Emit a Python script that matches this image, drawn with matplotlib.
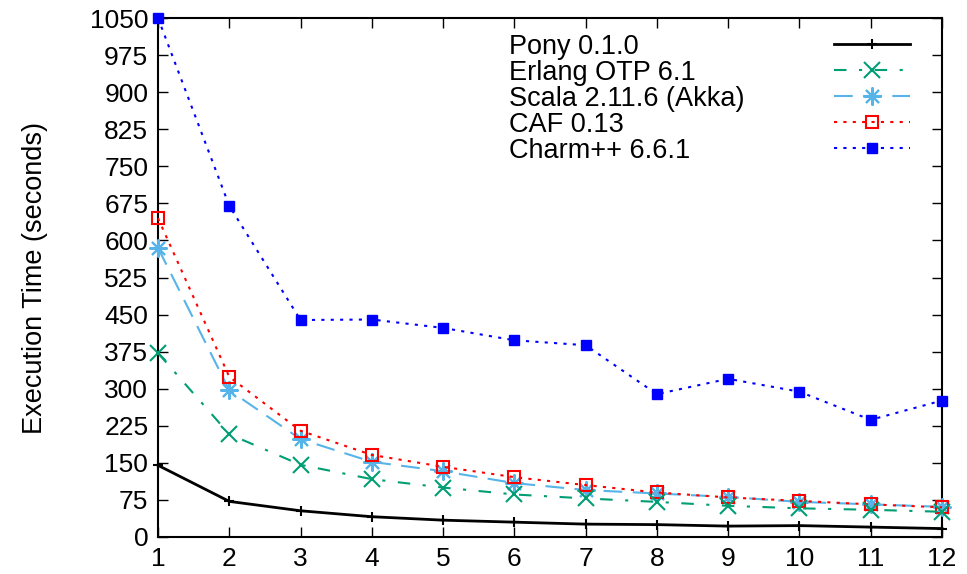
import matplotlib
matplotlib.use('Agg')
import matplotlib.pyplot as plt

plt.rcParams['font.family'] = ['Liberation Sans', 'DejaVu Sans']

cores = [1, 2, 3, 4, 5, 6, 7, 8, 9, 10, 11, 12]
pony = [145, 72, 53, 41, 34, 30, 26, 25, 22, 23, 20, 17]
erlang = [372, 208, 146, 117, 100, 86, 78, 71, 63, 58, 55, 51]
scala = [585, 297, 198, 152, 133, 109, 95, 88, 81, 71, 66, 61]
caf = [645, 324, 215, 166, 142, 121, 105, 90, 80, 73, 66, 60]
charm = [1050, 670, 439, 440, 423, 398, 388, 289, 320, 294, 237, 276]

y_ticks = list(range(0, 1051, 75))

fig = plt.figure(figsize=(9.67, 5.74), dpi=100)
ax = fig.add_axes([0.1634, 0.0645, 0.8107, 0.9041])

ax.plot(cores, pony, color='black', lw=2, marker='+', ms=7, mew=1.5,
        label='Pony 0.1.0', clip_on=False, zorder=6)
ax.plot(cores, erlang, color='#009e73', lw=1.5, ls=(0, (6, 6, 1.5, 6)),
        marker='x', ms=11, mew=1.5, label='Erlang OTP 6.1', clip_on=False, zorder=5)
ax.plot(cores, scala, color='#56b4e9', lw=1.5, ls=(0, (9, 5)),
        marker=(8, 2, 0), ms=13, mew=1.5, label='Scala 2.11.6 (Akka)', clip_on=False, zorder=4)
ax.plot(cores, caf, color='#ff0000', lw=1.5, ls=(0, (1.5, 3)),
        marker='s', ms=8, mfc='none', mew=1.5, label='CAF 0.13', clip_on=False, zorder=4)
ax.plot(cores, charm, color='#0000ff', lw=1.5, ls=(0, (1.5, 3)),
        marker='s', ms=6.5, label='Charm++ 6.6.1', clip_on=False, zorder=4)

ax.set_xlim(1, 12)
ax.set_ylim(0, 1050)
ax.set_xticks(cores)
ax.set_yticks(y_ticks)
ax.tick_params(direction='in', length=7, width=1, labelsize=19, top=True, right=True, pad=7)
for s in ax.spines.values():
    s.set_linewidth(1.5)

ax.set_ylabel('Execution Time (seconds)', fontsize=19.5, labelpad=30)

leg = ax.legend(loc='upper right', bbox_to_anchor=(0.959, 0.970), frameon=False,
                markerfirst=False, fontsize=19.5, handlelength=2.8, handletextpad=3.3,
                labelspacing=0.0, borderaxespad=0, borderpad=0)

# left-align the legend labels: pad each row so all rows are equally wide
fig.canvas.draw()
renderer = fig.canvas.get_renderer()
dpicor = renderer.points_to_pixels(1.0)
widths = [t.get_window_extent(renderer).width for t in leg.get_texts()]
maxw = max(widths)
rows = [r for col in leg._legend_handle_box.get_children() for r in col.get_children()]
for row, w in zip(rows, widths):
    row.sep = row.sep + (maxw - w) / dpicor

fig.savefig('out.png', dpi=100)
